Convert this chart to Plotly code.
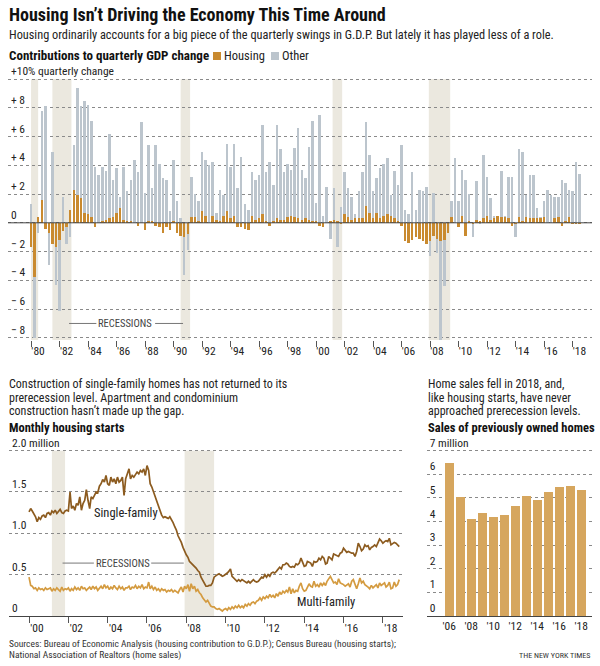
import plotly.graph_objects as go
import pandas as pd

# ---------------- DATA ----------------
# Top chart: quarterly real GDP change (annualized %), 1980Q1 - 2018Q3 (gray bars)
gdp_change = [
    1.3, -8.0, -0.7, 7.8,     # 1980
    8.1, -2.9, 4.9, -4.3,     # 1981
    -6.1, 1.8, -1.5, -1.0,    # 1982
    5.4, 9.4, 8.1, 8.5,       # 1983
    8.2, 7.1, 3.9, 3.3,       # 1984
    3.9, 3.6, 6.2, 3.0,       # 1985
    3.8, 1.8, 3.9, 2.2,       # 1986
    3.0, 4.4, 3.5, 7.0,       # 1987
    2.1, 5.4, 2.4, 5.4,       # 1988
    4.1, 3.1, 3.0, 0.8,       # 1989
    4.4, 1.5, 0.3, -3.6,      # 1990
    -1.9, 3.2, 2.0, 1.5,      # 1991
    4.9, 4.4, 4.0, 4.2,       # 1992
    0.7, 2.3, 1.9, 5.5,       # 1993
    3.9, 5.5, 2.4, 4.6,       # 1994
    1.3, 0.9, 3.5, 3.0,       # 1995
    3.3, 6.8, 3.5, 4.2,       # 1996
    2.6, 6.8, 5.1, 3.5,       # 1997
    4.1, 3.7, 5.2, 6.6,       # 1998
    3.7, 3.1, 5.3, 7.1,       # 1999
    1.4, 7.5, 0.5, 2.5,       # 2000
    -1.1, 2.4, -1.7, 1.1,     # 2001
    3.5, 2.4, 1.8, 0.6,       # 2002
    2.2, 3.5, 7.0, 4.7,       # 2003
    2.2, 3.1, 3.8, 4.1,       # 2004
    4.5, 1.9, 3.6, 2.6,       # 2005
    5.4, 0.9, 0.6, 3.5,       # 2006
    0.9, 2.3, 2.2, 2.5,       # 2007
    -2.3, 2.1, -2.1, -8.4,    # 2008
    -4.4, -0.6, 1.5, 4.5,     # 2009
    1.5, 3.7, 3.0, 2.0,       # 2010
    -1.0, 2.9, -0.1, 4.7,     # 2011
    3.2, 1.7, 0.5, 0.5,       # 2012
    3.6, 0.5, 3.2, 3.2,       # 2013
    -1.0, 5.1, 4.9, 1.9,      # 2014
    3.3, 3.3, 1.0, 0.4,       # 2015
    1.5, 2.3, 1.9, 1.8,       # 2016
    1.8, 3.0, 2.8, 2.3,       # 2017
    2.2, 4.2, 3.4,            # 2018
]
# Housing contribution (percentage points), same quarters (orange bars)
housing = [
    -1.7, -3.8, 0.4, 1.6,
    -0.4, -0.7, -1.5, -1.7,
    -1.2, -0.6, -0.3, 0.9,
    2.3, 1.9, 1.7, 0.7,
    0.6, 0.4, -0.3, 0.0,
    0.1, 0.2, 0.3, 0.4,
    0.7, 1.0, 0.2, 0.1,
    0.1, 0.0, -0.2, 0.0,
    -0.5, 0.1, 0.1, -0.2,
    -0.3, -0.7, -0.3, -0.5,
    0.1, -0.7, -0.9, -1.0,
    -0.8, 0.4, 0.4, 0.1,
    0.8, 0.5, 0.0, 0.5,
    0.2, 0.1, 0.5, 0.8,
    0.3, 0.5, -0.3, -0.3,
    -0.4, -0.5, 0.5, 0.2,
    0.3, 0.6, 0.1, -0.2,
    0.1, 0.3, 0.2, 0.2,
    0.4, 0.5, 0.4, 0.3,
    0.2, 0.3, 0.2, 0.1,
    0.1, -0.2, -0.3, 0.0,
    0.1, 0.2, 0.1, -0.1,
    0.6, 0.4, 0.2, 0.3,
    0.3, 0.3, 1.2, 0.7,
    0.3, 0.7, 0.3, 0.5,
    0.6, 0.5, 0.3, 0.1,
    -0.2, -1.3, -1.4, -1.2,
    -1.0, -1.1, -1.3, -1.5,
    -1.3, -0.9, -1.1, -1.3,
    -1.2, -0.7, 0.4, 0.0,
    -0.3, 0.5, -0.9, 0.1,
    -0.1, 0.2, 0.1, 0.3,
    0.5, 0.2, 0.3, 0.5,
    0.4, 0.4, 0.3, -0.2,
    -0.1, 0.4, 0.1, 0.4,
    0.3, 0.3, 0.3, 0.3,
    0.4, 0.0, 0.0, 0.3,
    0.4, -0.2, 0.1, 0.4,
    -0.1, -0.1, -0.1,
]
first_quarter = "1980-01-01"
top_tick_years = list(range(1980, 2019, 2))
top_tick_labels = ["'%02d" % (y % 100) for y in top_tick_years]
top_y_ticks = [-8, -6, -4, -2, 0, 2, 4, 6, 8, 10]
top_y_labels = ["\u2212 8", "\u2212 6", "\u2212 4", "\u2212 2", "0", "+ 2", "+ 4", "+ 6", "+ 8",
                "+10% quarterly change"]
recessions_top = [("1980-01-01", "1980-07-01"), ("1981-07-01", "1982-11-01"),
                  ("1990-07-01", "1991-03-01"), ("2001-03-01", "2001-11-01"),
                  ("2007-12-01", "2009-06-01")]

# Bottom-left: monthly housing starts (millions, SAAR), Jan 2000 - Nov 2018
single_family = [
    1.26, 1.30, 1.27, 1.24, 1.20, 1.14, 1.19, 1.17, 1.21, 1.22, 1.19, 1.24,
    1.25, 1.22, 1.27, 1.25, 1.28, 1.24, 1.26, 1.29, 1.25, 1.24, 1.27, 1.28,
    1.27, 1.50, 1.30, 1.33, 1.28, 1.36, 1.34, 1.44, 1.28, 1.36, 1.40, 1.53,
    1.40, 1.30, 1.44, 1.42, 1.46, 1.50, 1.49, 1.57, 1.60, 1.65, 1.62, 1.70,
    1.60, 1.58, 1.68, 1.62, 1.66, 1.60, 1.68, 1.62, 1.64, 1.68, 1.46, 1.66,
    1.72, 1.78, 1.66, 1.70, 1.68, 1.72, 1.74, 1.72, 1.76, 1.74, 1.78, 1.70,
    1.82, 1.76, 1.60, 1.56, 1.50, 1.46, 1.40, 1.32, 1.26, 1.22, 1.19, 1.20,
    1.19, 1.18, 1.20, 1.17, 1.13, 1.08, 1.04, 0.97, 0.93, 0.89, 0.83, 0.78,
    0.74, 0.71, 0.66, 0.64, 0.62, 0.61, 0.58, 0.55, 0.53, 0.47, 0.43, 0.38,
    0.36, 0.36, 0.37, 0.37, 0.40, 0.47, 0.49, 0.50, 0.51, 0.50, 0.48, 0.49,
    0.50, 0.52, 0.54, 0.57, 0.48, 0.46, 0.44, 0.42, 0.44, 0.42, 0.44, 0.43,
    0.41, 0.40, 0.42, 0.40, 0.42, 0.44, 0.42, 0.41, 0.42, 0.44, 0.47, 0.46,
    0.50, 0.47, 0.50, 0.48, 0.52, 0.53, 0.52, 0.54, 0.57, 0.59, 0.57, 0.62,
    0.62, 0.64, 0.63, 0.60, 0.59, 0.60, 0.59, 0.63, 0.62, 0.64, 0.70, 0.66,
    0.60, 0.61, 0.66, 0.65, 0.64, 0.60, 0.66, 0.65, 0.66, 0.70, 0.68, 0.72,
    0.70, 0.63, 0.64, 0.72, 0.70, 0.68, 0.75, 0.74, 0.73, 0.72, 0.76, 0.77,
    0.82, 0.80, 0.77, 0.78, 0.77, 0.76, 0.76, 0.72, 0.78, 0.88, 0.84, 0.79,
    0.81, 0.86, 0.84, 0.85, 0.80, 0.83, 0.84, 0.86, 0.84, 0.88, 0.93, 0.91,
    0.88, 0.90, 0.91, 0.90, 0.94, 0.86, 0.87, 0.89, 0.88, 0.86, 0.84,
]
multi_family = [
    0.47, 0.37, 0.36, 0.33, 0.34, 0.31, 0.34, 0.32, 0.33, 0.31, 0.34, 0.32,
    0.33, 0.34, 0.30, 0.33, 0.31, 0.34, 0.32, 0.30, 0.35, 0.31, 0.33, 0.32,
    0.34, 0.30, 0.33, 0.31, 0.35, 0.32, 0.34, 0.31, 0.36, 0.33, 0.34, 0.31,
    0.33, 0.35, 0.32, 0.36, 0.33, 0.35, 0.31, 0.34, 0.36, 0.33, 0.38, 0.34,
    0.36, 0.32, 0.35, 0.33, 0.37, 0.34, 0.32, 0.36, 0.33, 0.35, 0.31, 0.34,
    0.34, 0.36, 0.32, 0.35, 0.34, 0.37, 0.33, 0.36, 0.34, 0.38, 0.33, 0.35,
    0.34, 0.41, 0.33, 0.36, 0.32, 0.35, 0.31, 0.33, 0.30, 0.33, 0.31, 0.32,
    0.29, 0.31, 0.30, 0.32, 0.29, 0.31, 0.30, 0.28, 0.32, 0.35, 0.29, 0.36,
    0.33, 0.38, 0.30, 0.39, 0.33, 0.36, 0.30, 0.32, 0.28, 0.26, 0.22, 0.20,
    0.17, 0.19, 0.15, 0.12, 0.11, 0.11, 0.09, 0.08, 0.09, 0.07, 0.06, 0.08,
    0.09, 0.07, 0.10, 0.08, 0.11, 0.09, 0.12, 0.10, 0.13, 0.10, 0.12, 0.10,
    0.14, 0.12, 0.15, 0.13, 0.16, 0.17, 0.15, 0.18, 0.19, 0.22, 0.19, 0.23,
    0.21, 0.24, 0.22, 0.26, 0.23, 0.25, 0.22, 0.27, 0.24, 0.29, 0.26, 0.30,
    0.28, 0.31, 0.29, 0.35, 0.27, 0.33, 0.28, 0.31, 0.30, 0.36, 0.40, 0.33,
    0.30, 0.31, 0.34, 0.39, 0.36, 0.35, 0.42, 0.36, 0.38, 0.35, 0.40, 0.37,
    0.40, 0.37, 0.42, 0.46, 0.48, 0.44, 0.40, 0.41, 0.38, 0.45, 0.40, 0.39,
    0.38, 0.36, 0.37, 0.39, 0.35, 0.42, 0.44, 0.38, 0.33, 0.39, 0.46, 0.40,
    0.42, 0.38, 0.36, 0.35, 0.33, 0.37, 0.34, 0.36, 0.38, 0.34, 0.40, 0.37,
    0.38, 0.40, 0.35, 0.37, 0.41, 0.33, 0.34, 0.41, 0.36, 0.38, 0.44,
]
first_month = "2000-01-01"
starts_tick_years = list(range(2000, 2019, 2))
starts_tick_labels = ["'%02d" % (y % 100) for y in starts_tick_years]
starts_y_ticks = [0, 0.5, 1.0, 1.5, 2.0]
starts_y_labels = ["0", "0.5", "1.0", "1.5", "2.0 million"]
recessions_bottom = [("2001-03-01", "2001-11-01"), ("2007-12-01", "2009-06-01")]

# Bottom-right: sales of previously owned homes (millions)
sales_years = list(range(2006, 2019))
home_sales = [6.47, 5.04, 4.11, 4.34, 4.19, 4.26, 4.66, 5.09, 4.93, 5.25, 5.45, 5.51, 5.34]
sales_tick_years = list(range(2006, 2019, 2))
sales_tick_labels = ["'%02d" % (y % 100) for y in sales_tick_years]
sales_y_ticks = [0, 1, 2, 3, 4, 5, 6, 7]
sales_y_labels = ["0", "1", "2", "3", "4", "5", "6", "7 million"]

# ---------------- STYLE ----------------
W, H = 600, 666
FONT = "Liberation Sans Narrow, Arial Narrow, Roboto Condensed, Liberation Sans, sans-serif"
GRAY = "#bcc5cd"
ORANGE = "#c98a2f"
SF_COLOR = "#8c5b1f"
MF_COLOR = "#d49b40"
SALES_COLOR = "#d6a65e"
BAND = "#ebe8df"
TXT = "#222222"
GRID = "#8a8a8a"


def px(x):
    return x / W


def py(y):
    return 1 - y / H


q_dates = pd.date_range(first_quarter, periods=len(gdp_change), freq="QS")
m_dates = pd.date_range(first_month, periods=len(single_family), freq="MS")
bar_w = 64 * 24 * 3600 * 1000

fig = go.Figure()
fig.add_trace(go.Bar(x=q_dates, y=gdp_change, name="Other", marker_color=GRAY,
                     marker_line_width=0, width=bar_w, xaxis="x", yaxis="y"))
fig.add_trace(go.Bar(x=q_dates, y=housing, name="Housing", marker_color=ORANGE,
                     marker_line_width=0, width=bar_w, xaxis="x", yaxis="y"))
fig.add_trace(go.Scatter(x=m_dates, y=single_family, mode="lines", name="Single-family",
                         line=dict(color=SF_COLOR, width=1.7), xaxis="x2", yaxis="y2"))
fig.add_trace(go.Scatter(x=m_dates, y=multi_family, mode="lines", name="Multi-family",
                         line=dict(color=MF_COLOR, width=1.7), xaxis="x2", yaxis="y2"))
fig.add_trace(go.Bar(x=sales_years, y=home_sales, name="Home sales", marker_color=SALES_COLOR,
                     marker_line_width=0, width=0.79, xaxis="x3", yaxis="y3"))

tickfont = dict(family=FONT, size=11.5, color=TXT)
common_y = dict(showgrid=True, gridcolor=GRID, griddash="dot", gridwidth=1, ticks="",
                ticklabelposition="inside top", ticklabeloverflow="allow",
                tickfont=tickfont, zeroline=False, fixedrange=True, automargin=False)

TOP_PX_PER_UNIT = 14.375
fig.update_layout(
    width=W, height=H, margin=dict(l=0, r=0, t=0, b=0, autoexpand=False),
    paper_bgcolor="white", plot_bgcolor="rgba(0,0,0,0)",
    barmode="overlay", bargap=0, showlegend=False,
    font=dict(family=FONT, color=TXT),
    xaxis=dict(type="date", domain=[px(8), px(592)], range=["1978-05-20", "2019-05-15"],
               tickvals=[f"{y}-01-01" for y in top_tick_years], ticktext=top_tick_labels,
               ticks="outside", ticklen=6, tickcolor="#555", tickwidth=1,
               ticklabelshift=7, ticklabelstandoff=-6, tickfont=tickfont, automargin=False,
               showgrid=False, zeroline=False, showline=False, anchor="y", fixedrange=True),
    yaxis=dict(domain=[py(340), py(79 - 0.15 * TOP_PX_PER_UNIT)], range=[-8.15, 10.15],
               tickvals=top_y_ticks, ticktext=top_y_labels, anchor="x", **common_y),
    xaxis2=dict(type="date", domain=[px(9), px(403)], range=["1998-12-25", "2019-01-10"],
                tickvals=[f"{y}-01-01" for y in starts_tick_years], ticktext=starts_tick_labels,
                ticks="outside", ticklen=6, tickcolor="#555", tickwidth=1,
                ticklabelshift=8, ticklabelstandoff=-5, tickfont=tickfont, automargin=False,
                showgrid=False, zeroline=False, showline=True, linecolor="#444", linewidth=1,
                anchor="y2", fixedrange=True),
    yaxis2=dict(domain=[py(616), py(449.0)], range=[0, 2.02], tickvals=starts_y_ticks,
                ticktext=starts_y_labels, anchor="x2", **common_y),
    xaxis3=dict(domain=[px(426.7), px(592.3)], range=[2003.95, 2019.0],
                tickvals=sales_tick_years, ticktext=sales_tick_labels, ticks="",
                ticklabelstandoff=-1, tickfont=tickfont, automargin=False,
                showgrid=False, zeroline=False, showline=True, linecolor="#444", linewidth=1,
                anchor="y3", fixedrange=True),
    yaxis3=dict(domain=[py(616), py(449.0)], range=[0, 7.07], tickvals=sales_y_ticks,
                ticktext=sales_y_labels, anchor="x3", **common_y),
)

shapes = []
for a, b in recessions_top:
    shapes.append(dict(type="rect", xref="x", yref="y", x0=a, x1=b, y0=-8.15, y1=10,
                       fillcolor=BAND, line_width=0, layer="below"))
for a, b in recessions_bottom:
    shapes.append(dict(type="rect", xref="x2", yref="y2", x0=a, x1=b, y0=0, y1=2.0,
                       fillcolor=BAND, line_width=0, layer="below"))
# zero line of top chart, above bars
shapes.append(dict(type="line", xref="x domain", yref="y", x0=0, x1=1, y0=0, y1=0,
                   line=dict(color="#444", width=1), layer="above"))
# RECESSIONS connector lines
shapes += [
    dict(type="line", xref="x", yref="y", x0="1982-09-01", x1="1984-08-01", y0=-7, y1=-7,
         line=dict(color="#777", width=1)),
    dict(type="line", xref="x", yref="y", x0="1988-09-15", x1="1990-09-01", y0=-7, y1=-7,
         line=dict(color="#777", width=1)),
    dict(type="line", xref="x2", yref="y2", x0="2001-09-15", x1="2003-04-20", y0=0.64, y1=0.64,
         line=dict(color="#777", width=1)),
    dict(type="line", xref="x2", yref="y2", x0="2006-03-20", x1="2007-11-15", y0=0.64, y1=0.64,
         line=dict(color="#777", width=1)),
]
# legend keys
shapes += [
    dict(type="rect", xref="paper", yref="paper", x0=px(213), x1=px(221), y0=py(60), y1=py(52),
         fillcolor=ORANGE, line_width=0),
    dict(type="rect", xref="paper", yref="paper", x0=px(271), x1=px(279), y0=py(60), y1=py(52),
         fillcolor=GRAY, line_width=0),
]
fig.update_layout(shapes=shapes)

ann = []


def text(x, y, s, size=12, bold=False, color=TXT, anchor="left"):
    ann.append(dict(xref="paper", yref="paper", x=px(x), y=py(y), text=f"<b>{s}</b>" if bold else s,
                    showarrow=False, xanchor=anchor, yanchor="middle", borderpad=0,
                    font=dict(family=FONT, size=size, color=color)))


text(8, 15, "Housing Isn\u2019t Driving the Economy This Time Around", size=18, bold=True, color="#111")
text(8, 35, "Housing ordinarily accounts for a big piece of the quarterly swings in G.D.P. "
            "But lately it has played less of a role.", size=12.3)
text(8, 56, "Contributions to quarterly GDP change", size=13, bold=True, color="#111")
text(223, 56, "Housing", size=12.5)
text(281, 56, "Other", size=12.5)

text(8, 384.5, "Construction of single-family homes has not returned to its", size=12)
text(8, 397.5, "prerecession level. Apartment and condominium", size=12)
text(8, 410.5, "construction hasn\u2019t made up the gap.", size=12)
text(8, 428, "Monthly housing starts", size=12.5, bold=True, color="#111")

text(427, 384.5, "Home sales fell in 2018, and,", size=12)
text(427, 397.5, "like housing starts, have never", size=12)
text(427, 410.5, "approached prerecession levels.", size=12)
text(427, 428, "Sales of previously owned homes", size=12.5, bold=True, color="#111")

text(8, 644, "Sources: Bureau of Economic Analysis (housing contribution to G.D.P.); "
             "Census Bureau (housing starts);", size=9.5, color="#333")
text(8, 655, "National Association of Realtors (home sales)", size=9.5, color="#333")
text(591, 655, "THE NEW YORK TIMES", size=8, color="#333", anchor="right")

# data-space labels
ann += [
    dict(xref="x", yref="y", x="1986-08-15", y=-7, text="RECESSIONS", showarrow=False,
         font=dict(family=FONT, size=10.5, color="#444")),
    dict(xref="x2", yref="y2", x="2004-10-20", y=0.64, text="RECESSIONS", showarrow=False,
         font=dict(family=FONT, size=10.5, color="#444")),
    dict(xref="x2", yref="y2", x="2004-12-01", y=1.25, text="Single-family", showarrow=False,
         font=dict(family=FONT, size=12.5, color="#222")),
    dict(xref="x2", yref="y2", x="2015-02-01", y=0.17, text="Multi-family", showarrow=False,
         font=dict(family=FONT, size=12.5, color="#222")),
]
fig.update_layout(annotations=ann)

fig.write_html("out.html", config={"displayModeBar": False, "staticPlot": True},
               post_script="document.body.style.margin='0';")
